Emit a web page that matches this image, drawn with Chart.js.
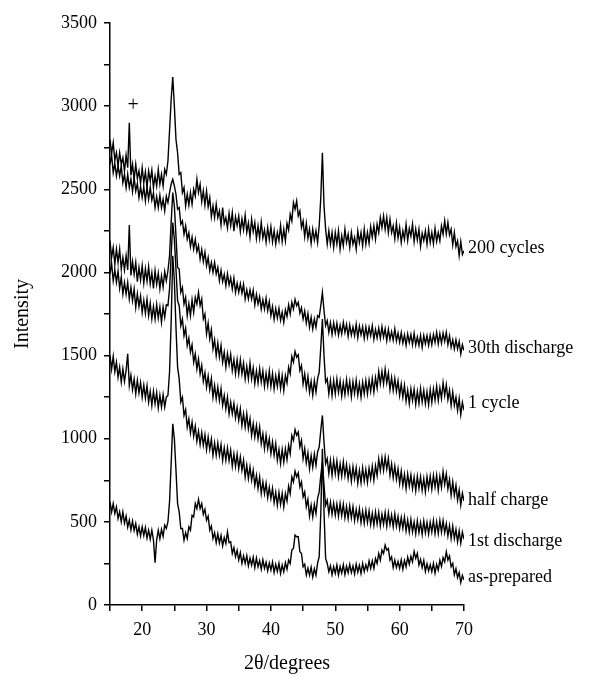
<!DOCTYPE html>
<html>
<head>
<meta charset="utf-8">
<script src="https://cdn.jsdelivr.net/npm/chart.js@4.4.0/dist/chart.umd.min.js"></script>
<style>
    body { margin: 0; background: #fff; }
    #wrap { width: 589px; height: 677px; }
</style>
</head>
<body>
<div id="wrap"><canvas id="xrdChart" width="589" height="677"></canvas></div>
<script>
// 2θ sampling: 15° to 70° every 0.25°
const twoThetaStart = 15;
const twoThetaStep = 0.25;

const seriesNames = ['200 cycles', '30th discharge', '1 cycle', 'half charge', '1st discharge', 'as-prepared'];
// intensity where each name sits at the right end of its trace
const nameLevels = [2147, 1545, 1215, 631, 385, 168];

const cycles200 = [
    2800, 2715, 2780, 2675, 2720, 2640, 2720, 2650, 2690, 2610, 2705, 2630, 2900, 2585, 2650, 2560, 2650, 2565, 2610, 2535,
    2630, 2540, 2605, 2510, 2610, 2550, 2615, 2510, 2580, 2520, 2620, 2530, 2590, 2520, 2620, 2590, 2670, 2850, 3040, 3175,
    3000, 2800, 2720, 2590, 2600, 2480, 2510, 2400, 2470, 2405, 2480, 2410, 2500, 2460, 2560, 2480, 2530, 2425, 2490, 2405,
    2490, 2395, 2450, 2335, 2400, 2330, 2410, 2330, 2370, 2285, 2390, 2295, 2330, 2268, 2355, 2282, 2360, 2248, 2335, 2282,
    2340, 2246, 2322, 2258, 2345, 2241, 2298, 2214, 2320, 2245, 2300, 2205, 2280, 2206, 2302, 2208, 2255, 2182, 2270, 2198,
    2275, 2184, 2252, 2171, 2240, 2190, 2282, 2185, 2260, 2190, 2295, 2255, 2350, 2310, 2420, 2380, 2430, 2340, 2370, 2270,
    2310, 2215, 2295, 2205, 2260, 2175, 2260, 2195, 2250, 2180, 2280, 2450, 2720, 2400, 2260, 2170, 2250, 2170, 2240, 2150,
    2240, 2170, 2250, 2140, 2220, 2160, 2260, 2180, 2230, 2150, 2240, 2170, 2210, 2140, 2250, 2180, 2240, 2160, 2260, 2170,
    2240, 2175, 2275, 2212, 2280, 2200, 2290, 2240, 2330, 2270, 2340, 2260, 2330, 2240, 2320, 2240, 2280, 2202, 2295, 2207,
    2270, 2180, 2250, 2200, 2290, 2192, 2265, 2218, 2290, 2185, 2260, 2195, 2260, 2157, 2235, 2192, 2250, 2170, 2260, 2180,
    2240, 2172, 2265, 2187, 2240, 2190, 2280, 2230, 2310, 2232, 2300, 2225, 2260, 2165, 2240, 2155, 2190, 2102, 2185, 2108,
    2130
];

const discharge30 = [
    2650, 2705, 2600, 2655, 2580, 2640, 2580, 2640, 2540, 2590, 2510, 2590, 2510, 2562, 2485, 2568, 2490, 2535, 2450, 2515,
    2450, 2515, 2430, 2515, 2440, 2512, 2435, 2478, 2390, 2455, 2390, 2465, 2390, 2440, 2370, 2458, 2420, 2480, 2530, 2560,
    2520, 2470, 2380, 2390, 2290, 2310, 2230, 2280, 2200, 2238, 2155, 2212, 2140, 2198, 2125, 2162, 2080, 2138, 2065, 2122,
    2040, 2090, 2010, 2060, 2000, 2060, 1990, 2030, 1950, 2012, 1945, 1988, 1920, 1992, 1925, 1968, 1900, 1965, 1880, 1935,
    1880, 1932, 1875, 1928, 1840, 1895, 1840, 1895, 1840, 1892, 1805, 1868, 1810, 1855, 1780, 1835, 1780, 1845, 1770, 1825,
    1740, 1794, 1718, 1782, 1725, 1783, 1712, 1761, 1700, 1775, 1735, 1805, 1750, 1820, 1780, 1838, 1800, 1820, 1755, 1788,
    1720, 1768, 1695, 1752, 1670, 1730, 1660, 1720, 1670, 1740, 1730, 1800, 1880, 1770, 1680, 1710, 1640, 1698, 1627, 1696,
    1635, 1694, 1623, 1682, 1630, 1699, 1638, 1687, 1615, 1684, 1623, 1672, 1620, 1689, 1608, 1677, 1625, 1674, 1603, 1672,
    1610, 1670, 1619, 1679, 1598, 1657, 1606, 1665, 1604, 1673, 1612, 1661, 1590, 1658, 1596, 1644, 1592, 1660, 1588, 1636,
    1580, 1638, 1576, 1624, 1562, 1630, 1578, 1627, 1565, 1634, 1563, 1612, 1561, 1621, 1550, 1620, 1570, 1620, 1561, 1622,
    1565, 1627, 1578, 1639, 1570, 1632, 1574, 1635, 1585, 1640, 1565, 1618, 1550, 1595, 1540, 1595, 1540, 1585, 1510, 1565,
    1530
];

const cycle1 = [
    2190, 2090, 2150, 2050, 2140, 2060, 2140, 2020, 2090, 2015, 2100, 2015, 2285, 1982, 2065, 1988, 2060, 1945, 2030, 1955,
    2040, 1936, 2022, 1948, 2035, 1931, 1998, 1904, 2010, 1928, 1995, 1902, 1980, 1912, 2005, 1950, 2010, 2100, 2300, 2480,
    2400, 2220, 2030, 2020, 1880, 1910, 1810, 1850, 1740, 1812, 1740, 1835, 1760, 1850, 1810, 1880, 1800, 1840, 1720, 1750,
    1630, 1695, 1600, 1655, 1540, 1595, 1500, 1575, 1490, 1560, 1460, 1520, 1430, 1512, 1445, 1508, 1410, 1475, 1390, 1475,
    1390, 1475, 1390, 1455, 1360, 1435, 1360, 1455, 1360, 1426, 1332, 1408, 1335, 1422, 1340, 1408, 1315, 1392, 1320, 1408,
    1315, 1392, 1300, 1378, 1315, 1393, 1301, 1380, 1290, 1380, 1335, 1430, 1390, 1495, 1460, 1525, 1490, 1505, 1410, 1440,
    1330, 1390, 1305, 1375, 1280, 1345, 1262, 1350, 1280, 1360, 1400, 1550, 1720, 1500, 1340, 1360, 1270, 1350, 1260, 1350,
    1270, 1359, 1279, 1348, 1257, 1336, 1266, 1355, 1275, 1344, 1253, 1343, 1272, 1352, 1261, 1331, 1250, 1340, 1270, 1350,
    1270, 1352, 1285, 1362, 1280, 1368, 1305, 1405, 1330, 1405, 1330, 1418, 1335, 1395, 1295, 1368, 1290, 1362, 1285, 1348,
    1260, 1330, 1250, 1322, 1225, 1292, 1210, 1300, 1230, 1298, 1206, 1284, 1212, 1302, 1221, 1290, 1210, 1282, 1204, 1296,
    1218, 1300, 1232, 1316, 1230, 1306, 1242, 1337, 1260, 1325, 1235, 1292, 1200, 1280, 1200, 1250, 1170, 1242, 1145, 1218,
    1170
];

const halfCharge = [
    1990, 2055, 1950, 2015, 1940, 2008, 1905, 1972, 1870, 1940, 1870, 1940, 1840, 1910, 1830, 1900, 1790, 1872, 1795, 1858,
    1760, 1832, 1755, 1838, 1740, 1815, 1720, 1795, 1720, 1808, 1725, 1792, 1700, 1792, 1730, 1805, 1800, 1900, 2100, 2300,
    2200, 2020, 1830, 1800, 1680, 1720, 1620, 1665, 1560, 1605, 1520, 1565, 1460, 1510, 1420, 1480, 1390, 1442, 1345, 1398,
    1310, 1378, 1295, 1362, 1250, 1320, 1240, 1310, 1230, 1300, 1200, 1260, 1180, 1250, 1150, 1220, 1150, 1212, 1125, 1188,
    1110, 1180, 1080, 1150, 1070, 1150, 1060, 1120, 1020, 1090, 1010, 1080, 1000, 1070, 970, 1030, 940, 1020, 940, 1000,
    910, 980, 900, 970, 870, 935, 850, 935, 860, 940, 875, 960, 910, 1020, 990, 1055, 1020, 1040, 950, 990,
    880, 940, 855, 915, 820, 898, 828, 908, 840, 920, 950, 1050, 1140, 980, 850, 880, 790, 870, 780, 870,
    790, 866, 772, 848, 775, 861, 778, 844, 760, 827, 744, 831, 758, 825, 732, 809, 736, 825, 745, 815,
    738, 822, 758, 834, 750, 838, 778, 878, 808, 885, 810, 890, 818, 880, 780, 848, 765, 835, 755, 818,
    730, 805, 720, 785, 700, 788, 715, 782, 700, 768, 686, 774, 702, 771, 690, 760, 680, 771, 703, 775,
    697, 779, 710, 780, 690, 774, 708, 802, 725, 788, 698, 755, 660, 740, 660, 720, 630, 691, 602, 673,
    625
];

const discharge1st = [
    1500, 1418, 1495, 1402, 1460, 1370, 1430, 1340, 1420, 1345, 1410, 1510, 1320, 1382, 1295, 1358, 1270, 1352, 1275, 1338,
    1250, 1322, 1245, 1318, 1220, 1285, 1200, 1285, 1210, 1278, 1185, 1262, 1190, 1265, 1190, 1250, 1260, 1400, 1700, 2100,
    1950, 1670, 1430, 1360, 1220, 1250, 1140, 1175, 1070, 1120, 1035, 1100, 1015, 1075, 985, 1045, 965, 1037, 960, 1023,
    935, 1010, 935, 998, 900, 975, 900, 975, 900, 965, 870, 945, 870, 944, 868, 931, 835, 909, 833, 906,
    820, 890, 810, 870, 770, 840, 760, 830, 750, 810, 720, 780, 700, 770, 670, 740, 670, 732, 645, 708,
    640, 702, 615, 678, 600, 677, 605, 672, 590, 670, 625, 715, 670, 770, 740, 805, 770, 795, 710, 740,
    650, 680, 590, 635, 535, 600, 530, 605, 550, 640, 680, 780, 860, 720, 600, 630, 550, 618, 545, 612,
    540, 607, 534, 611, 538, 606, 524, 592, 520, 597, 524, 591, 508, 575, 512, 579, 496, 564, 492, 570,
    497, 565, 483, 551, 480, 559, 488, 557, 476, 546, 486, 556, 475, 555, 484, 542, 470, 547, 474, 532,
    460, 526, 462, 528, 445, 511, 438, 514, 440, 499, 428, 507, 436, 496, 425, 505, 435, 496, 427, 498,
    439, 509, 430, 500, 430, 509, 438, 507, 435, 490, 415, 478, 400, 475, 400, 455, 380, 446, 372, 438,
    395
];

const asPrepared = [
    620, 560, 610, 550, 590, 520, 560, 500, 560, 492, 535, 468, 510, 452, 505, 448, 490, 425, 470, 415,
    470, 418, 466, 403, 450, 395, 450, 392, 255, 392, 450, 398, 455, 412, 480, 460, 500, 620, 850, 1090,
    1000, 810, 610, 560, 460, 460, 390, 435, 400, 470, 450, 540, 530, 610, 580, 635, 580, 610, 545, 575,
    510, 535, 450, 475, 400, 435, 375, 428, 372, 418, 355, 405, 370, 440, 375, 380, 310, 345, 290, 328,
    270, 315, 250, 295, 250, 297, 235, 282, 240, 287, 225, 282, 230, 267, 215, 272, 220, 257, 205, 252,
    210, 258, 196, 244, 202, 251, 190, 240, 200, 255, 215, 270, 250, 330, 340, 420, 410, 410, 320, 310,
    230, 245, 180, 222, 180, 228, 168, 218, 180, 250, 290, 550, 940, 560, 280, 250, 200, 235, 182, 230,
    190, 240, 181, 231, 192, 242, 183, 233, 194, 244, 195, 235, 186, 246, 197, 238, 189, 250, 201, 242,
    210, 265, 220, 265, 220, 280, 250, 310, 270, 330, 310, 360, 330, 340, 270, 290, 225, 270, 225, 262,
    220, 272, 215, 268, 230, 288, 245, 292, 260, 322, 280, 310, 240, 275, 225, 268, 202, 248, 205, 242,
    200, 250, 192, 245, 210, 270, 232, 285, 260, 320, 270, 295, 230, 250, 182, 218, 165, 195, 135, 178,
    150
];

const allSeries = [cycles200, discharge30, cycle1, halfCharge, discharge1st, asPrepared];

// the "+" impurity mark above the 200 cycles trace
const plusMark = { x: 18.6, y: 3000 };

const serif = "'Liberation Serif', 'DejaVu Serif', serif";

function toPoints(values) {
    return values.map((v, i) => ({ x: twoThetaStart + i * twoThetaStep, y: v }));
}

const traceNames = {
    id: 'traceNames',
    afterDatasetsDraw(chart) {
        const ctx = chart.ctx;
        const yScale = chart.scales.y;
        const xScale = chart.scales.x;
        ctx.save();
        ctx.fillStyle = '#000';
        ctx.font = '18px ' + serif;
        ctx.textBaseline = 'middle';
        ctx.textAlign = 'left';
        seriesNames.forEach((name, i) => {
            ctx.fillText(name, chart.chartArea.right + 4, yScale.getPixelForValue(nameLevels[i]));
        });
        ctx.textAlign = 'center';
        ctx.font = '20px ' + serif;
        ctx.fillText('+', xScale.getPixelForValue(plusMark.x), yScale.getPixelForValue(plusMark.y));
        ctx.restore();
    }
};

const ctx = document.getElementById('xrdChart');

new Chart(ctx, {
    type: 'line',
    data: {
        datasets: allSeries.map((values, i) => ({
            label: seriesNames[i],
            data: toPoints(values),
            borderColor: '#000',
            borderWidth: 1.4,
            pointRadius: 0,
            tension: 0,
            fill: false
        }))
    },
    options: {
        responsive: false,
        animation: false,
        layout: {
            padding: { top: 23, right: 125, bottom: 0, left: 0 }
        },
        plugins: {
            legend: { display: false },
            tooltip: { enabled: false }
        },
        scales: {
            x: {
                type: 'linear',
                min: 15,
                max: 70,
                afterFit: (scale) => { scale.height = 72; },
                border: { color: '#000', width: 1.5 },
                grid: {
                    drawOnChartArea: false,
                    drawTicks: true,
                    tickLength: 6,
                    color: '#000',
                    lineWidth: 1.5
                },
                ticks: {
                    stepSize: 5,
                    autoSkip: false,
                    maxRotation: 0,
                    padding: 8,
                    color: '#000',
                    font: { family: serif, size: 18 },
                    callback: (v) => (v % 10 === 0 ? v : '')
                },
                title: {
                    display: true,
                    text: '2θ/degrees',
                    color: '#000',
                    font: { family: serif, size: 20 },
                    padding: { top: 0, bottom: 1 }
                }
            },
            y: {
                min: 0,
                max: 3500,
                afterFit: (scale) => { scale.width = 110; },
                border: { color: '#000', width: 1.5 },
                grid: {
                    drawOnChartArea: false,
                    drawTicks: true,
                    tickLength: 6,
                    color: '#000',
                    lineWidth: 1.5
                },
                ticks: {
                    stepSize: 250,
                    autoSkip: false,
                    padding: 7,
                    color: '#000',
                    font: { family: serif, size: 18 },
                    callback: (v) => (v % 500 === 0 ? v : '')
                },
                title: {
                    display: true,
                    text: 'Intensity',
                    color: '#000',
                    font: { family: serif, size: 20 },
                    padding: { top: 11, bottom: 0 }
                }
            }
        }
    },
    plugins: [traceNames]
});
</script>
</body>
</html>
